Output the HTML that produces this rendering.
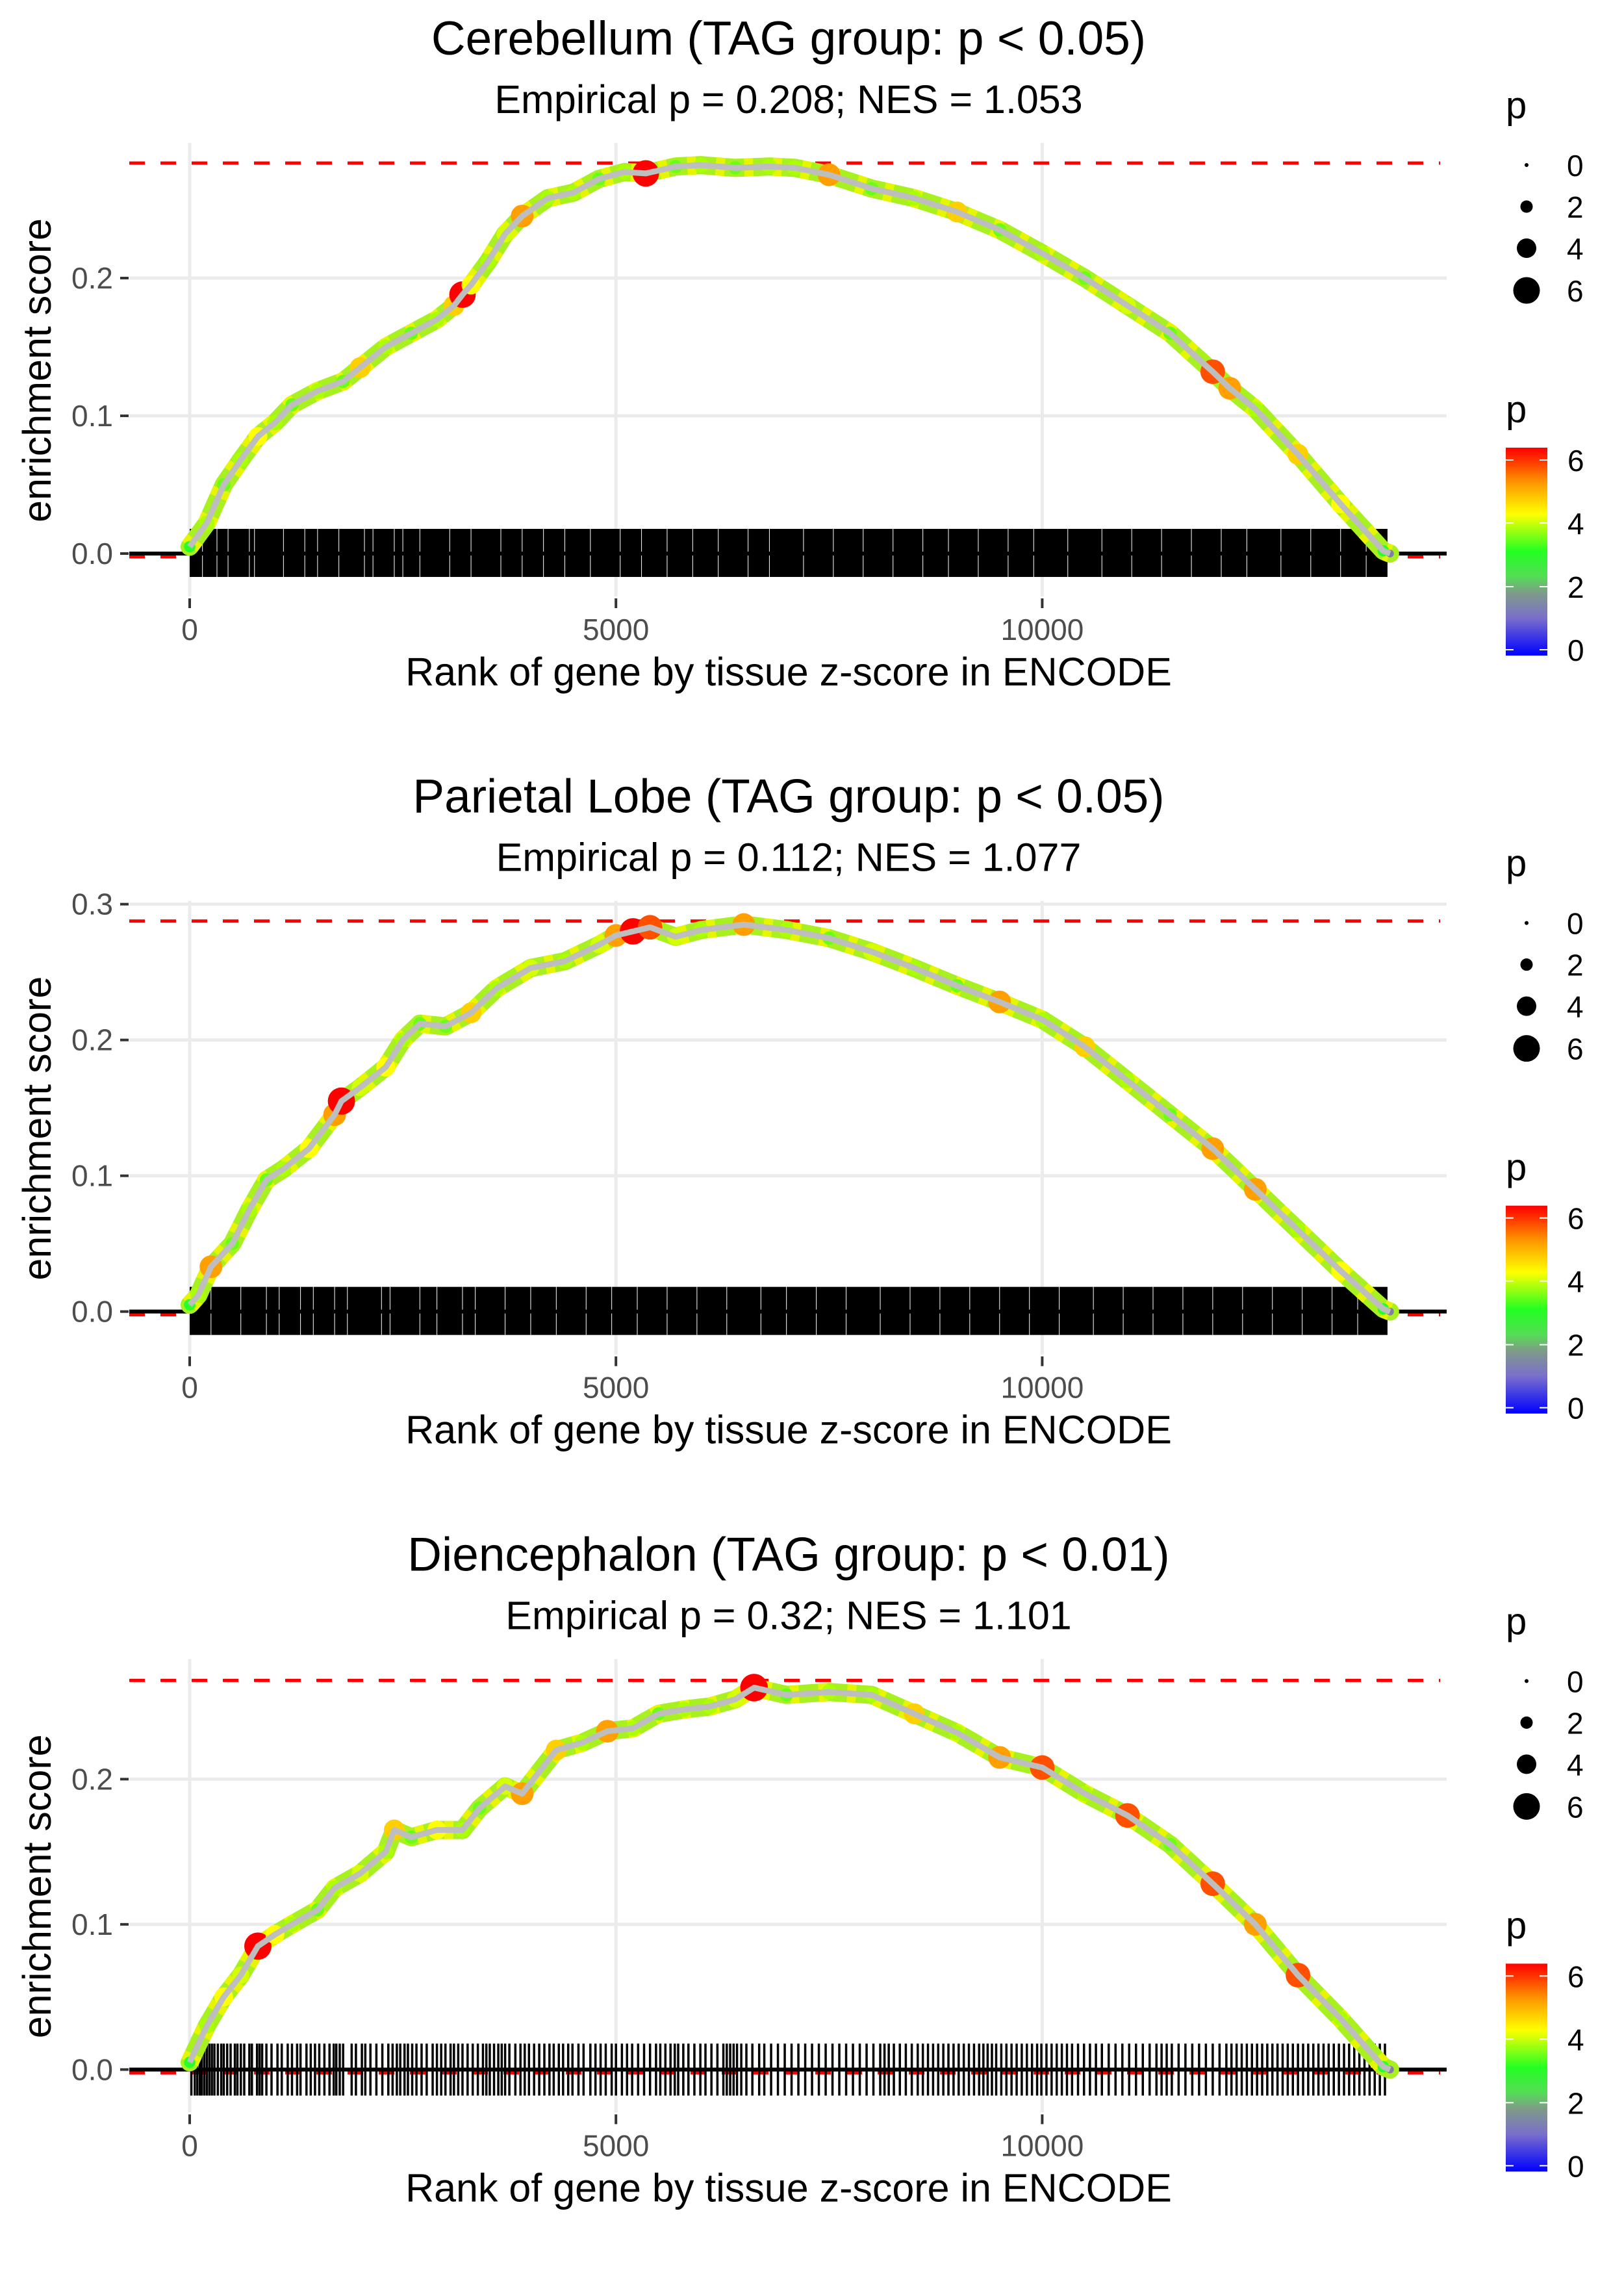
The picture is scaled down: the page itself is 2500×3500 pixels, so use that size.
<!DOCTYPE html>
<html><head><meta charset="utf-8"><style>
html,body{margin:0;padding:0;background:#fff;}
svg{display:block;font-family:"Liberation Sans",sans-serif;}
</style></head><body>
<svg id="chart" width="2500" height="3500" viewBox="0 0 2500 3500" xmlns="http://www.w3.org/2000/svg">
<defs>
<linearGradient id="pgrad" x1="0" y1="1" x2="0" y2="0">
<stop offset="0" stop-color="#0000ff"/>
<stop offset="0.18" stop-color="#7a6fcc"/>
<stop offset="0.3" stop-color="#7f9a8a"/>
<stop offset="0.38" stop-color="#55dd55"/>
<stop offset="0.5" stop-color="#22ff22"/>
<stop offset="0.68" stop-color="#ffff00"/>
<stop offset="0.83" stop-color="#ff9900"/>
<stop offset="0.94" stop-color="#ff3300"/>
<stop offset="1" stop-color="#ff0000"/>
</linearGradient>
</defs>
</svg>
<script>
const NS="http://www.w3.org/2000/svg";
const svg=document.getElementById('chart');

// ---------- data ----------
const titles=["Cerebellum (TAG group: p < 0.05)","Parietal Lobe (TAG group: p < 0.05)","Diencephalon (TAG group: p < 0.01)"];
const subtitles=["Empirical p = 0.208; NES = 1.053","Empirical p = 0.112; NES = 1.077","Empirical p = 0.32; NES = 1.101"];
const maxES=[0.2835,0.2876,0.268];
const yTicks1=[0,0.1,0.2];
const yTicks2=[0,0.1,0.2,0.3];
const yTicks3=[0,0.1,0.2];
const xTicks=[0,5000,10000];
const xTickLabels=["0","5000","10000"];

const rank1=[0,200,400,600,800,1000,1200,1500,1800,2000,2300,2600,2900,3100,3200,3300,3500,3700,3900,4200,4500,4800,5100,5350,5700,6000,6400,6800,7100,7500,8000,8500,9000,9500,10000,10500,11000,11500,12000,12200,12500,13000,13500,14000,14080];
const es1=[0.005,0.022,0.05,0.068,0.085,0.095,0.108,0.118,0.125,0.135,0.15,0.16,0.17,0.18,0.188,0.195,0.212,0.232,0.245,0.258,0.262,0.272,0.277,0.276,0.281,0.282,0.28,0.281,0.28,0.275,0.265,0.258,0.248,0.235,0.218,0.2,0.18,0.16,0.132,0.12,0.105,0.072,0.036,0.002,0];
const p1=[2,3,2.5,3,4,3,2.5,3,2.5,4.5,3,2.5,3,4.5,6,4,3,3.5,5,3,3,2.5,3,6,2.5,3,2.5,3,3,5,2.5,3,4.5,2.5,3,2.5,3.5,2.5,5.5,5,3,4.5,4,2,1];

const rank2=[0,100,250,500,700,900,1100,1400,1700,1780,2000,2300,2500,2700,3000,3300,3600,4000,4400,4800,5000,5200,5400,5700,6000,6500,7000,7500,8000,8500,9000,9500,10000,10500,11000,11500,12000,12500,13000,13500,14000,14080];
const es2=[0.005,0.012,0.033,0.05,0.075,0.097,0.105,0.12,0.145,0.155,0.165,0.18,0.2,0.212,0.21,0.22,0.238,0.253,0.258,0.27,0.277,0.28,0.283,0.276,0.281,0.285,0.281,0.275,0.265,0.253,0.24,0.228,0.215,0.195,0.17,0.145,0.12,0.09,0.06,0.03,0.002,0];
const p2=[2,3,5,2.5,3,2.5,3,4,5,6.2,3.5,4,3,2.5,2.5,4.5,3,3.5,3,3.5,5,6,5.5,3.5,3,5,3,2.5,3.5,3,2.5,5,3,4.5,3,2.5,5,5,3,4,2,1];

const rank3=[0,200,400,600,800,1000,1200,1500,1700,2000,2300,2400,2600,2900,3200,3400,3700,3900,4300,4600,4900,5200,5500,5800,6100,6400,6620,7000,7500,8000,8500,9000,9500,10000,10500,11000,11500,12000,12500,13000,13500,14000,14080];
const es3=[0.005,0.03,0.05,0.065,0.085,0.093,0.1,0.11,0.125,0.135,0.15,0.165,0.16,0.165,0.165,0.18,0.195,0.19,0.22,0.225,0.233,0.235,0.245,0.248,0.25,0.255,0.263,0.258,0.26,0.258,0.245,0.232,0.215,0.208,0.19,0.175,0.155,0.128,0.1,0.065,0.035,0.002,0];
const p3=[2,3,4,3.5,6.2,4,3,2.5,3,3.5,3,4.5,2.5,4,3,2.5,3.5,5,4.5,3,5,3,2.5,3,3,3.5,6.3,2.5,3,3,4.5,3,5,5.5,3,5.5,2.5,5.5,5,5.5,3,2,1];

// white gaps in the dense rug (panels 1 & 2)
const gaps1=[150,320,450,700,760,1100,1350,1500,1750,2050,2150,2400,2500,2700,3050,3300,3650,3900,4150,4400,4700,5050,5300,5600,5900,6200,6550,6800,7200,7550,7900,8250,8600,8900,9250,9600,9900,10300,10700,11050,11400,11750,12100,12400,12800,13150,13500,13800];
const gaps2=[250,600,900,1050,1300,1450,1700,1850,2250,2350,2700,2900,3200,3350,3700,4000,4300,4650,4950,5250,5600,5950,6300,6700,7000,7350,7700,8100,8450,8800,9150,9500,9850,10200,10600,10950,11300,11650,12000,12350,12700,13050,13400,13700];
// gene hits for Diencephalon rug
const hits3=[20,60,90,120,140,170,200,230,260,290,330,370,400,440,480,530,560,600,640,700,730,790,820,850,900,960,1030,1080,1150,1200,1260,1300,1370,1420,1470,1520,1580,1640,1690,1720,1760,1800,1900,1950,2020,2060,2120,2190,2260,2330,2380,2430,2470,2520,2560,2610,2660,2720,2780,2850,2900,2950,3000,3060,3100,3150,3200,3260,3320,3380,3440,3480,3520,3570,3620,3660,3700,3750,3820,3880,3930,3980,4040,4100,4160,4220,4270,4330,4380,4440,4490,4560,4620,4700,4760,4820,4880,4950,5000,5070,5130,5190,5260,5330,5400,5470,5520,5580,5640,5690,5730,5790,5850,5920,5990,6050,6120,6190,6260,6300,6340,6380,6420,6470,6530,6600,6680,6740,6820,6900,6980,7060,7140,7220,7300,7380,7460,7540,7620,7700,7780,7860,7940,8020,8100,8150,8200,8260,8330,8400,8470,8540,8600,8660,8720,8780,8840,8900,8960,9020,9080,9140,9200,9260,9310,9360,9410,9460,9520,9580,9640,9700,9760,9820,9880,9940,9990,10050,10110,10170,10230,10290,10350,10420,10490,10560,10630,10700,10780,10860,10940,11020,11100,11180,11260,11340,11400,11460,11520,11600,11680,11760,11840,11920,12000,12080,12160,12220,12280,12340,12400,12460,12520,12580,12640,12700,12760,12820,12880,12940,13000,13060,13120,13180,13240,13300,13360,13420,13480,13540,13600,13660,13720,13780,13840,13900,13960,14020];

const ranks=[rank1,rank2,rank3];
const esVals=[es1,es2,es3];
const pVals=[p1,p2,p3];
const yTickSets=[yTicks1,yTicks2,yTicks3];
const yScalePx=[2120,2090,2235];

// ---------- helpers ----------
function el(tag,attrs,parent){const e=document.createElementNS(NS,tag);for(const k in attrs)e.setAttribute(k,attrs[k]);(parent||svg).appendChild(e);return e;}
function txt(s,attrs,parent){const e=el('text',attrs,parent);e.textContent=s;return e;}
function lerp(a,b,t){return a+(b-a)*t;}
const cStops=[[0,[0,0,255]],[1,[127,127,160]],[2,[40,255,40]],[3,[170,255,0]],[4,[255,255,0]],[5,[255,160,0]],[6,[255,0,0]]];
function pColor(p){p=Math.max(0,Math.min(6,p));for(let i=0;i<cStops.length-1;i++){const [a,ca]=cStops[i],[b,cb]=cStops[i+1];if(p<=b){const t=(p-a)/(b-a);return 'rgb('+ca.map((v,j)=>Math.round(lerp(v,cb[j],t))).join(',')+')';}}return 'red';}
const PL=199,PR=2227;
const CX=1214;
function xS(r){return 292+r*0.13124;}

for(let k=0;k<3;k++){
  const off=k*1166.67;
  const y0=off+852, sc=yScalePx[k];
  const yS=v=>y0-v*sc;
  const g=el('g',{});
  
  

  const t=txt(titles[k],{x:CX,y:off+84,'text-anchor':'middle','font-size':73,fill:'#000'},g);
  
  
  const st=txt(subtitles[k],{x:CX,y:off+174,'text-anchor':'middle','font-size':61,fill:'#000'},g);
  
  

  // gridlines
  const grid=el('g',{},g);
  
  
  yTickSets[k].forEach(v=>{el('line',{x1:PL,x2:PR,y1:yS(v),y2:yS(v),stroke:'#ebebeb','stroke-width':5},grid);});
  xTicks.forEach(v=>{el('line',{x1:xS(v),x2:xS(v),y1:off+220,y2:off+918,stroke:'#ebebeb','stroke-width':5},grid);});

  // y axis ticks + labels
  yTickSets[k].forEach(v=>{
    el('line',{x1:185,x2:198,y1:yS(v),y2:yS(v),stroke:'#333','stroke-width':4},g);
    const l=txt(v.toFixed(1),{x:174,y:yS(v)+16,'text-anchor':'end','font-size':46,fill:'#4d4d4d'},g);
    
    
  });
  xTicks.forEach((v,i)=>{
    el('line',{x1:xS(v),x2:xS(v),y1:off+921,y2:off+936,stroke:'#333','stroke-width':4},g);
    const l=txt(xTickLabels[i],{x:xS(v),y:off+985,'text-anchor':'middle','font-size':46,fill:'#4d4d4d'},g);
    
    
  });
  const xt=txt('Rank of gene by tissue z-score in ENCODE',{x:CX,y:off+1055,'text-anchor':'middle','font-size':61,fill:'#000'},g);
  
  
  const yt=txt('enrichment score',{x:0,y:0,'text-anchor':'middle','font-size':61,fill:'#000',transform:'translate(78,'+(off+570)+') rotate(-90)'},g);
  
  

  // dashed max line & zero lines
  const ml=el('line',{x1:PL,x2:PR-10,y1:yS(maxES[k]),y2:yS(maxES[k]),stroke:'#ff0000','stroke-width':5,'stroke-dasharray':'24 24'},g);
  
  
  el('line',{x1:PL,x2:PR-10,y1:y0+5,y2:y0+5,stroke:'#ff0000','stroke-width':5,'stroke-dasharray':'24 24'},g);

  // rug
  const rug=el('g',{},g);
  
  
  if(k<2){
    el('rect',{x:xS(0),y:y0-38,width:xS(14050)-xS(0),height:74,fill:'#000'},rug);
    (k===0?gaps1:gaps2).forEach(r=>{el('line',{x1:xS(r),x2:xS(r),y1:y0-38,y2:y0+36,stroke:'#fff','stroke-width':1},rug);});
  } else {
    hits3.forEach(r=>{
      const h=el('line',{x1:xS(r),x2:xS(r),y1:y0-40,y2:y0+40,stroke:'#000','stroke-width':3.5},rug);
      
      
    });
  }
  el('line',{x1:PL,x2:PR,y1:y0,y2:y0,stroke:'#000','stroke-width':6},g);

  // ES curve
  const R=ranks[k],E=esVals[k],P=pVals[k];
  const pts=R.map((r,i)=>xS(r)+','+yS(E[i])).join(' ');
  const band=el('polyline',{points:pts,fill:'none',stroke:'#a8f020','stroke-width':28,'stroke-linejoin':'round','stroke-linecap':'round'},g);
  
  
  const band2=el('polyline',{points:pts,fill:'none',stroke:'#e6f500','stroke-width':28,'stroke-dasharray':'14 30','stroke-linejoin':'round'},g);
  
  
  R.forEach((r,i)=>{
    const c=el('circle',{cx:xS(r),cy:yS(E[i]),r:3+2.9*P[i],fill:pColor(P[i])},g);
    
    
  });
  const line=el('polyline',{points:pts,fill:'none',stroke:'#bebebe','stroke-width':9,'stroke-linejoin':'round'},g);
  
  

  // size legend
  const sl=el('g',{},g);
  
  
  txt('p',{x:2318,y:off+182,'font-size':58,fill:'#000'},sl);
  const sizeVals=[0,2,4,6],sizeY=[254,318,382,447],sizeR=[3,9.5,15,20.5];
  sizeVals.forEach((v,i)=>{
    el('circle',{cx:2350,cy:off+sizeY[i],r:sizeR[i],fill:'#000'},sl);
    txt(String(v),{x:2412,y:off+sizeY[i]+17,'font-size':46,fill:'#000'},sl);
  });
  // color legend
  const cl=el('g',{},g);
  
  
  txt('p',{x:2318,y:off+650,'font-size':58,fill:'#000'},cl);
  el('rect',{x:2318,y:off+689,width:64,height:320,fill:'url(#pgrad)'},cl);
  const cVals=[6,4,2,0],cY=[708,805,903,1000];
  cVals.forEach((v,i)=>{
    el('line',{x1:2318,x2:2330,y1:off+cY[i],y2:off+cY[i],stroke:'#fff','stroke-width':2},cl);
    el('line',{x1:2370,x2:2382,y1:off+cY[i],y2:off+cY[i],stroke:'#fff','stroke-width':2},cl);
    txt(String(v),{x:2413,y:off+cY[i]+17,'font-size':46,fill:'#000'},cl);
  });
}
</script>
</body></html>
